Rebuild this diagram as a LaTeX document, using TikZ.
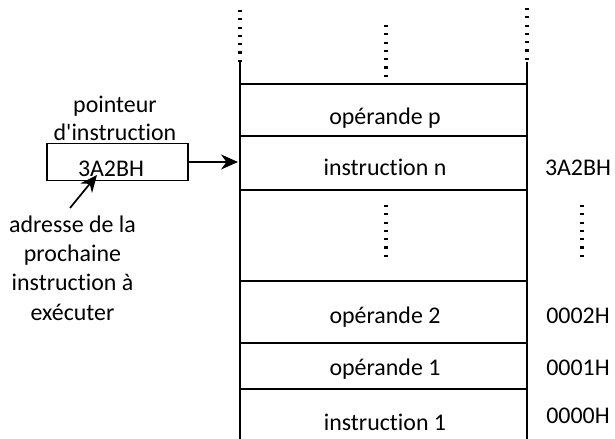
\documentclass[tikz,border=0pt]{standalone}
\usepackage{fontspec}
\setmainfont{Carlito}[Ligatures={NoCommon,TeX}]
\usetikzlibrary{arrows.meta}
\begin{document}
\begin{tikzpicture}[x=1bp,y=-1bp, line width=1.7bp,
  lbl/.style={font=\fontsize{24}{29}\selectfont, inner sep=0pt, anchor=base},
  dotline/.style={line width=3.6bp, dash pattern=on 2.2bp off 6.1bp},
  arr/.style={-{Stealth[length=17bp,width=15bp]}},
  ptrbox/.style={draw, minimum width=141bp, minimum height=37bp, inner sep=0pt}]
\useasboundingbox (0,0) rectangle (615,439);
% memory columns
\coordinate (lt) at (240,62);
\coordinate (rt) at (527,62);
\coordinate (lb) at (240,439);
\coordinate (rb) at (527,439);
\draw (lt) -- (lb);
\draw (rt) -- (rb);
\draw[dotline] (240,10) -- (lt);
\draw[dotline] (527,8) -- (rt);
\draw[dotline] (386,25) -- (386,78);
% cell separators
\foreach \yy in {84,136,190,281,343,389}
  \draw (240,\yy) -- (527,\yy);
% cell texts
\node[lbl] (opp) at (385,125) {opérande p};
\node[lbl] (instn) at (385,176) {instruction n};
\node[lbl] (addrn) at (578,176) {3A2BH};
\draw[dotline] (386,205) -- (386,259);
\draw[dotline] (582,205) -- (582,259);
\node[lbl] (op2) at (385,323) {opérande 2};
\node[lbl] (a2) at (578,323) {0002H};
\node[lbl] (op1) at (385,375) {opérande 1};
\node[lbl] (a1) at (578,375) {0001H};
\node[lbl] (inst1) at (385,430) {instruction 1};
\node[lbl] (a0) at (578,423) {0000H};
% pointer
\node[lbl] (pt1) at (115,113) {pointeur};
\node[lbl] (pt2) at (115,141) {d\textquotesingle instruction};
\node[ptrbox] (box) at (117.5,162) {};
\node[lbl] (boxval) at (111,177) {3A2BH};
\coordinate (memin) at (238,162);
\draw[arr] (box.east) -- (memin);
% address note
\node[lbl] (n1) at (72.5,233) {adresse de la};
\node[lbl] (n2) at (72.5,262) {prochaine};
\node[lbl] (n3) at (72.5,291) {instruction à};
\node[lbl] (n4) at (72.5,320) {exécuter};
\coordinate (tail) at (70,208);
\coordinate (tip) at (97,175);
\draw[arr] (tail) -- (tip);
\end{tikzpicture}
\end{document}
